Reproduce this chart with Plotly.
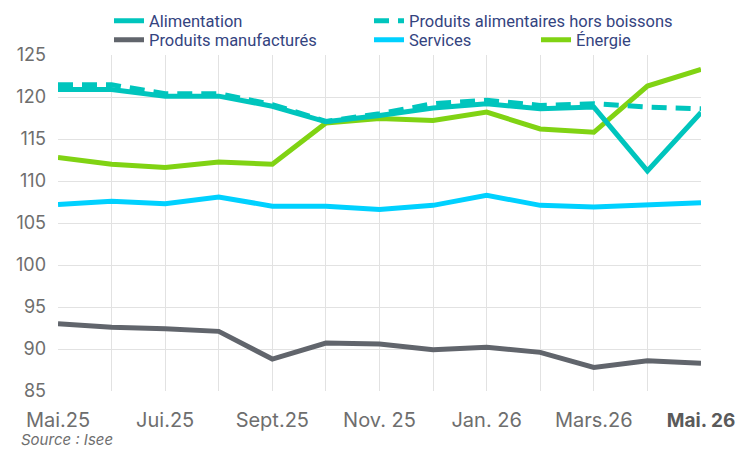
import plotly.graph_objects as go

months = ["Mai.25", "Juin.25", "Juil.25", "Août.25", "Sept.25", "Oct.25", "Nov.25",
          "Déc.25", "Jan.26", "Fév.26", "Mars.26", "Avr.26", "Mai.26"]
tick_labels = ["Mai.25", "", "Jui.25", "", "Sept.25", "", "Nov. 25", "", "Jan. 26", "",
               "Mars.26", "", "<b><span style='color:#5A5A5A;font-size:19px'>Mai. 26</span></b>"]

alimentation = [120.9, 120.9, 120.1, 120.1, 118.9, 117.05, 117.8, 118.7, 119.2, 118.6, 118.8, 111.2, 118.15]
alim_hors_boissons = [121.45, 121.45, 120.4, 120.4, 119.1, 117.1, 118.0, 119.2, 119.6, 119.0, 119.2, 118.8, 118.6]
manufactures = [93.0, 92.6, 92.4, 92.1, 88.8, 90.7, 90.6, 89.9, 90.2, 89.6, 87.8, 88.6, 88.3]
services = [107.2, 107.6, 107.3, 108.1, 107.0, 107.0, 106.6, 107.1, 108.3, 107.1, 106.9, 107.1, 107.4]
energie = [112.8, 112.0, 111.6, 112.25, 112.0, 116.9, 117.45, 117.2, 118.2, 116.2, 115.8, 121.3, 123.3]

C_ALIM = "#00C5BD"
C_MANU = "#61656C"
C_SERV = "#00D1FF"
C_ENER = "#80D313"
LW = 5

fig = go.Figure()
fig.add_trace(go.Scatter(x=months, y=services, name="Services", mode="lines",
                         line=dict(color=C_SERV, width=LW), legend="legend4"))
fig.add_trace(go.Scatter(x=months, y=manufactures, name="Produits manufacturés", mode="lines",
                         line=dict(color=C_MANU, width=LW), legend="legend3"))
fig.add_trace(go.Scatter(x=months, y=energie, name="Énergie", mode="lines",
                         line=dict(color=C_ENER, width=LW), legend="legend5"))
fig.add_trace(go.Scatter(x=months, y=alim_hors_boissons, name="Produits alimentaires hors boissons",
                         mode="lines", line=dict(color=C_ALIM, width=LW, dash="15px,9px"),
                         legend="legend2"))
fig.add_trace(go.Scatter(x=months, y=alimentation, name="Alimentation", mode="lines",
                         line=dict(color=C_ALIM, width=LW), legend="legend", showlegend=True))

# page body margin is removed, so figure coordinates equal page coordinates
W, H = 737, 450
ML, MT, PW, PH = 58, 55, 643, 336
legend_font = dict(family="Roboto", size=16.5, color="#34447F")
common = dict(xanchor="left", yanchor="middle", orientation="v", font=legend_font,
              bgcolor="rgba(0,0,0,0)", tracegroupgap=0, itemwidth=30)

def lx(px):
    return (px - ML) / PW

def ly(py):
    return 1 + (MT - py) / PH

fig.update_layout(
    width=W, height=H, showlegend=True,
    margin=dict(l=ML, r=W - ML - PW, t=MT, b=H - MT - PH, autoexpand=False),
    plot_bgcolor="white", paper_bgcolor="white",
    font=dict(family="Inter", size=18, color="#6E6E6E"),
    xaxis=dict(
        type="category", categoryorder="array", categoryarray=months,
        tickmode="array", tickvals=months, ticktext=tick_labels,
        range=[0, 12], showgrid=True, gridcolor="#E2E2E2", gridwidth=1,
        showline=False, zeroline=False, ticks="", automargin=False,
        ticklabelstandoff=15,
        tickfont=dict(family="Inter", size=20, color="#6E6E6E"),
    ),
    yaxis=dict(
        range=[85, 125], tickvals=[85, 90, 95, 100, 105, 110, 115, 120, 125],
        showgrid=True, gridcolor="#E2E2E2", gridwidth=1, zeroline=False,
        showline=False, ticks="", automargin=False, ticklabelstandoff=11,
        tickfont=dict(family="Inter", size=18, color="#6E6E6E"),
    ),
    legend=dict(x=lx(109), y=ly(21), **common),
    legend2=dict(x=lx(369), y=ly(21), **common),
    legend3=dict(x=lx(109), y=ly(40), **common),
    legend4=dict(x=lx(369), y=ly(40), **common),
    legend5=dict(x=lx(536), y=ly(40), **common),
    annotations=[dict(
        text="<i>Source : Isee</i>", xref="paper", yref="paper",
        x=lx(19), y=ly(439), xanchor="left", yanchor="middle", showarrow=False,
        font=dict(family="Inter", size=15, color="#6E6E6E"),
    )],
)

fig.write_html(
    "out.html",
    config={"displayModeBar": False},
    post_script="document.body.style.margin='0';document.body.style.overflow='hidden';",
)
